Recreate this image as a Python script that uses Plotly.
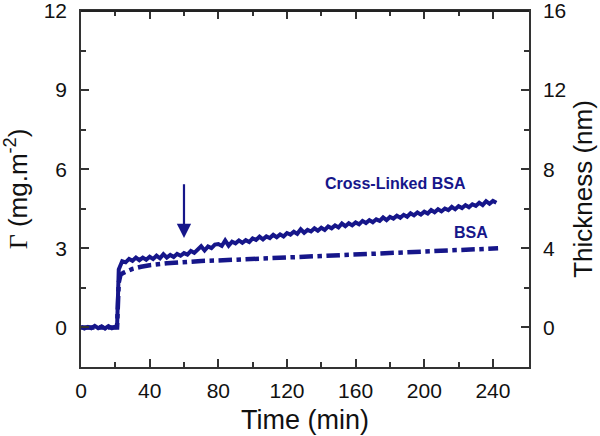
import plotly.graph_objects as go

# Cross-linked BSA (solid, noisy)
t_cl = [0, 2, 4, 6, 8, 10, 12, 14, 16, 18, 20, 21, 22, 24, 26, 28, 30, 32, 34, 36, 38, 40,
        42, 44, 46, 48, 50, 52, 54, 56, 58, 60, 62, 64, 66, 68, 70, 72, 74, 76, 78, 80,
        82, 84, 86, 88, 90, 92, 94, 96, 98, 100, 102, 104, 106, 108, 110, 112, 114, 116, 118, 120,
        122, 124, 126, 128, 130, 132, 134, 136, 138, 140, 142, 144, 146, 148, 150, 152, 154, 156, 158, 160,
        162, 164, 166, 168, 170, 172, 174, 176, 178, 180, 182, 184, 186, 188, 190, 192, 194, 196, 198, 200,
        202, 204, 206, 208, 210, 212, 214, 216, 218, 220, 222, 224, 226, 228, 230, 232, 234, 236, 238, 240, 242]
g_cl = [0.03, -0.04, 0.02, -0.03, 0.06, -0.03, 0.04, -0.04, 0.05, -0.03, 0.03, -0.02,
        2.20, 2.51, 2.47, 2.60, 2.53, 2.65, 2.55, 2.65, 2.57, 2.68,
        2.60, 2.72, 2.62, 2.78, 2.65, 2.75, 2.67, 2.79, 2.72, 2.82,
        2.76, 2.90, 2.83, 2.98, 3.08, 2.92, 3.07, 3.01, 3.14, 3.16,
        3.09, 3.30, 3.10, 3.25, 3.19, 3.30, 3.21, 3.31, 3.24, 3.38,
        3.32, 3.44, 3.34, 3.45, 3.39, 3.51, 3.42, 3.53, 3.45, 3.58,
        3.52, 3.63, 3.55, 3.72, 3.59, 3.70, 3.64, 3.76, 3.67, 3.78,
        3.70, 3.83, 3.76, 3.87, 3.79, 3.94, 3.84, 3.95, 3.87, 3.98,
        3.91, 4.04, 3.96, 4.07, 3.99, 4.10, 4.04, 4.17, 4.07, 4.19,
        4.13, 4.24, 4.16, 4.27, 4.20, 4.33, 4.25, 4.36, 4.28, 4.39,
        4.32, 4.45, 4.37, 4.48, 4.40, 4.51, 4.45, 4.57, 4.48, 4.60,
        4.53, 4.64, 4.56, 4.67, 4.61, 4.73, 4.64, 4.79, 4.69, 4.80, 4.73]

# BSA (dash-dot)
t_bsa = [0, 5, 10, 15, 20, 21, 22, 23, 25, 28, 30, 35, 40, 50, 60, 70, 80, 90, 100, 110, 120,
         130, 140, 150, 160, 170, 180, 190, 200, 210, 220, 230, 240, 243]
g_bsa = [0, 0, 0, 0, 0, 0, 1.7, 2.0, 2.08, 2.16, 2.22, 2.3, 2.36, 2.43, 2.49, 2.52, 2.54, 2.57, 2.6, 2.62, 2.64,
         2.67, 2.7, 2.73, 2.76, 2.8, 2.83, 2.86, 2.88, 2.9, 2.94, 2.97, 2.99, 3.0]

x_ticks = [0, 40, 80, 120, 160, 200, 240]
x_minor = [20, 60, 100, 140, 180, 220]
y_ticks = [0, 3, 6, 9, 12]
y2_ticks = [0, 4, 8, 12, 16]

NAVY = "#16168a"
AX = "#333333"
FONT = "Liberation Sans, Arial, sans-serif"

fig = go.Figure()
fig.add_trace(go.Scatter(x=t_bsa, y=g_bsa, mode="lines",
                         line=dict(color=NAVY, width=4.5, dash="dashdot"), showlegend=False))
fig.add_trace(go.Scatter(x=t_cl, y=g_cl, mode="lines",
                         line=dict(color=NAVY, width=4), showlegend=False))
# invisible traces for secondary axes
fig.add_trace(go.Scatter(x=[0], y=[0], yaxis="y2", mode="markers",
                         marker=dict(opacity=0), showlegend=False, hoverinfo="skip"))
fig.add_trace(go.Scatter(x=[0], y=[0], xaxis="x2", mode="markers",
                         marker=dict(opacity=0), showlegend=False, hoverinfo="skip"))

axis_common = dict(showline=True, linecolor=AX, linewidth=1.5, ticks="inside", ticklen=8,
                   tickwidth=1.5, tickcolor=AX, showgrid=False, zeroline=False, automargin=False,
                   ticklabeloverflow="allow",
                   tickfont=dict(family=FONT, size=21, color="#111"))

fig.update_layout(
    width=600, height=436,
    margin=dict(l=81, r=71, t=11, b=69),
    plot_bgcolor="white", paper_bgcolor="white",
    xaxis=dict(range=[0, 261], tickvals=x_ticks,
               minor=dict(tickvals=x_minor, ticks="inside", ticklen=5,
                          tickcolor=AX, tickwidth=1.5),
               title=dict(text="Time (min)", font=dict(family=FONT, size=27, color="#111"), standoff=9),
               ticklabelstandoff=4,
               **axis_common),
    xaxis2=dict(range=[0, 261], tickvals=x_ticks, overlaying="x", side="top", anchor="y",
                showticklabels=False,
                minor=dict(tickvals=x_minor, ticks="inside", ticklen=5,
                           tickcolor=AX, tickwidth=1.5),
                **axis_common),
    yaxis=dict(range=[-1.5, 12], tickvals=y_ticks,
               minor=dict(tickvals=[1.5, 4.5, 7.5, 10.5], ticks="inside", ticklen=5,
                          tickcolor=AX, tickwidth=1.5),
               title=dict(text="<span style='font-family:Liberation Serif'>Γ</span> (mg.m<sup>-2</sup>)",
                          font=dict(family=FONT, size=26, color="#111"), standoff=18),
               ticklabelstandoff=8,
               **axis_common),
    yaxis2=dict(range=[-2, 16], tickvals=y2_ticks, overlaying="y", side="right",
                minor=dict(tickvals=[2, 6, 10, 14], ticks="inside", ticklen=5,
                           tickcolor=AX, tickwidth=1.5),
                title=dict(text="Thickness (nm)", font=dict(family=FONT, size=26, color="#111"), standoff=8),
                ticklabelstandoff=8,
                **axis_common),
    shapes=[dict(type="line", xref="paper", yref="paper", x0=0, x1=1, y0=1, y1=1,
                 line=dict(color="#222222", width=2), layer="above")],
    annotations=[
        dict(x=60, y=3.39, ax=60, ay=5.49, xref="x", yref="y", axref="x", ayref="y",
             showarrow=True, arrowhead=2, arrowsize=1.3, arrowwidth=2.2, arrowcolor=NAVY, text=""),
        dict(x=183, y=5.45, xref="x", yref="y", text="<b>Cross-Linked BSA</b>", showarrow=False,
             font=dict(family=FONT, size=16, color=NAVY)),
        dict(x=227, y=3.6, xref="x", yref="y", text="<b>BSA</b>", showarrow=False,
             font=dict(family=FONT, size=16, color=NAVY)),
    ],
)

fig.write_html("out.html", config={"displayModeBar": False},
               post_script="document.documentElement.style.margin='0';document.body.style.margin='0';document.body.style.padding='0';document.body.style.overflow='hidden';")
